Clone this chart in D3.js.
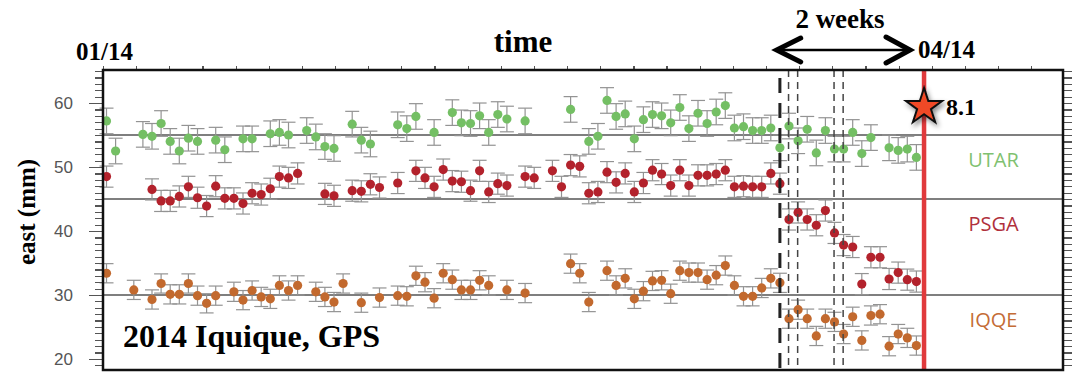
<!DOCTYPE html>
<html>
<head>
<meta charset="utf-8">
<script src="https://cdn.jsdelivr.net/npm/d3@7"></script>
<style>
  body { margin: 0; background: #fff; }
  svg { display: block; }
  .bold-serif { font-family: "Liberation Serif", "Times New Roman", serif; font-weight: bold; fill: #000; }
  .axis text { font-family: "Liberation Sans", Arial, sans-serif; font-size: 17px; fill: #555; }
  .axis line { stroke: #555; stroke-width: 1.2; shape-rendering: crispEdges; }
  .axis path.domain { display: none; }
  .station { font-family: "Open Sans", "Liberation Sans", Arial, sans-serif; font-size: 20px; text-anchor: middle; }
</style>
</head>
<body>
<svg id="chart" width="1072" height="372"></svg>
<script>
// days counted from 01/14 (0 = first day), east offsets in mm
const utarDays = [0, 1, 4, 5, 6, 7, 8, 9, 10, 12, 13, 15, 16, 18, 19, 20, 22, 23, 24, 25,
  27, 28, 29, 32, 33, 34, 36, 38, 39, 40, 41, 42, 43, 44, 46, 51, 53, 54, 55, 56,
  57, 58, 59, 60, 61, 62, 63, 64, 65, 66, 67, 68, 69, 70, 71, 72, 73, 74, 75, 76,
  77, 78, 79, 80, 81, 82, 83, 84, 86, 87, 88, 89];
const utarEast = [57.2, 52.5, 55.1, 54.8, 56.8, 54.0, 52.5, 54.5, 54.0, 54.2, 52.7, 54.4, 54.4, 55.2, 55.4, 55.0, 55.7, 54.7, 53.2, 52.9,
  56.7, 54.2, 53.6, 56.6, 56.0, 57.9, 55.4, 58.5, 56.9, 56.8, 58.0, 55.4, 58.2, 57.5, 57.2, 59.0, 54.0, 54.8, 60.4, 57.9,
  58.3, 54.4, 57.4, 58.2, 58.0, 56.9, 59.3, 56.0, 58.4, 56.8, 58.6, 59.6, 56.1, 56.3, 55.7, 55.7, 56.1, 53.0, 56.4, 54.1,
  55.9, 52.2, 55.7, 52.8, 52.8, 55.4, 52.1, 54.6, 53.0, 52.6, 52.8, 51.5];

const psgaDays = [0, 5, 6, 7, 8, 9, 10, 11, 12, 13, 14, 15, 16, 17, 18, 19, 20, 21, 24, 25,
  27, 28, 29, 30, 32, 34, 35, 36, 37, 38, 39, 40, 41, 42, 43, 44, 46, 47, 49, 50,
  51, 52, 53, 54, 55, 56, 57, 58, 59, 60, 61, 62, 63, 64, 65, 66, 67, 68, 69, 70,
  71, 72, 73, 74, 75, 76, 77, 78, 79, 80, 81, 82, 83, 84, 85, 86, 87, 88, 89];
const psgaEast = [48.5, 46.5, 44.7, 44.7, 45.4, 46.9, 45.2, 43.9, 47.0, 45.1, 45.1, 44.3, 45.9, 45.7, 46.6, 48.5, 48.3, 49.0, 45.8, 45.5,
  46.3, 46.2, 47.3, 46.8, 47.5, 49.4, 48.3, 46.9, 49.6, 47.8, 47.7, 46.3, 49.4, 46.1, 47.4, 47.1, 48.5, 48.3, 49.4, 46.9,
  50.3, 50.1, 45.9, 46.1, 49.2, 47.6, 49.0, 46.1, 47.5, 49.5, 48.9, 47.1, 49.5, 47.1, 48.7, 48.7, 48.9, 49.5, 46.9, 47.0,
  46.9, 46.9, 49.0, 47.4, 41.8, 42.9, 41.8, 40.9, 43.2, 39.7, 37.8, 37.5, 31.7, 35.9, 35.9, 32.5, 33.5, 32.4, 32.1];

const iqqeDays = [0, 3, 5, 6, 7, 8, 9, 10, 11, 12, 14, 15, 16, 17, 18, 19, 20, 21, 23, 24,
  25, 26, 28, 30, 32, 33, 34, 35, 36, 37, 38, 39, 40, 41, 42, 44, 46, 51, 52, 53,
  55, 56, 57, 58, 59, 60, 61, 62, 63, 64, 65, 66, 67, 68, 69, 70, 71, 72, 73, 74,
  75, 76, 77, 78, 79, 80, 81, 82, 83, 84, 85, 86, 87, 88, 89];
const iqqeEast = [33.4, 30.8, 29.3, 31.8, 30.1, 30.1, 31.8, 29.9, 28.7, 29.9, 30.5, 29.2, 30.7, 29.7, 29.4, 31.5, 30.7, 31.5, 30.5, 29.7,
  28.9, 31.8, 28.8, 29.6, 29.9, 29.8, 33.0, 32.0, 29.5, 33.4, 32.4, 30.8, 30.8, 32.3, 31.5, 30.8, 30.3, 34.9, 33.4, 28.9,
  33.8, 31.5, 32.6, 29.4, 30.6, 32.2, 32.3, 30.2, 33.8, 33.5, 33.5, 32.4, 33.1, 34.6, 31.5, 29.8, 29.8, 31.1, 32.6, 31.9,
  26.3, 27.7, 26.3, 23.6, 26.3, 25.8, 23.9, 26.6, 22.9, 26.8, 27.0, 22.0, 23.9, 23.3, 22.1];

const stations = ['UTAR', 'PSGA', 'IQQE'];
const stationColors = ['#74bf64', '#b3222c', '#c2692e'];
const labelColors = ['#7fc170', '#b0303c', '#c46c36'];
const stationErr = [2.0, 1.65, 1.5];   // mm, half-length of the error bars
const baselines = [55, 45, 30];         // reference level per station

const yMajorTicks = [20, 30, 40, 50, 60];
const eqDay = 89.84;                    // 8.1 Iquique mainshock
const eqMagnitude = '8.1';
const starEast = 59.4;
const slowSlipStart = 74;               // long-dashed marker
const foreshockDays = [74.95, 75.95, 79.95, 80.95];
const twoWeeks = [73.65, 88.3];

const series = [
  { days: utarDays, east: utarEast },
  { days: psgaDays, east: psgaEast },
  { days: iqqeDays, east: iqqeEast }
];

const W = 1072, H = 372;
const margin = { top: 70, right: 9, bottom: 2, left: 103 };
const plotW = W - margin.left - margin.right;
const plotH = H - margin.top - margin.bottom;

const svg = d3.select('#chart');

const x = d3.scaleLinear().domain([-0.385, 105.11]).range([0, plotW]);
const y = d3.scaleLinear().domain([18.28, 65.16]).range([plotH, 0]);

// star shadow
const defs = svg.append('defs');
defs.append('filter').attr('id', 'shadow')
  .attr('x', '-50%').attr('y', '-50%').attr('width', '200%').attr('height', '200%')
  .append('feDropShadow')
  .attr('dx', 2).attr('dy', 3).attr('stdDeviation', 2.5)
  .attr('flood-color', '#000').attr('flood-opacity', 0.45);

const g = svg.append('g').attr('transform', `translate(${margin.left},${margin.top})`);

// reference lines
g.selectAll('line.base')
  .data(baselines)
  .enter().append('line')
  .attr('class', 'base')
  .attr('x1', 0).attr('x2', plotW)
  .attr('y1', d => y(d)).attr('y2', d => y(d))
  .attr('stroke', '#555')
  .attr('stroke-width', 1.5);

// error bars + points
series.forEach((s, k) => {
  const pts = s.days.map((d, i) => ({ d: d, v: s.east[i] }));
  const err = stationErr[k];
  const grp = g.append('g').attr('class', 'station-' + stations[k]);

  const bars = grp.selectAll('g.err')
    .data(pts)
    .enter().append('g')
    .attr('class', 'err')
    .attr('stroke', '#939393')
    .attr('stroke-width', 1.2);
  bars.append('line')
    .attr('x1', p => x(p.d)).attr('x2', p => x(p.d))
    .attr('y1', p => y(p.v + err)).attr('y2', p => y(p.v - err));
  bars.append('line')
    .attr('x1', p => x(p.d) - 7).attr('x2', p => x(p.d) + 7)
    .attr('y1', p => y(p.v + err)).attr('y2', p => y(p.v + err));
  bars.append('line')
    .attr('x1', p => x(p.d) - 7).attr('x2', p => x(p.d) + 7)
    .attr('y1', p => y(p.v - err)).attr('y2', p => y(p.v - err));

  grp.selectAll('circle')
    .data(pts)
    .enter().append('circle')
    .attr('cx', p => x(p.d))
    .attr('cy', p => y(p.v))
    .attr('r', 4.6)
    .attr('fill', stationColors[k]);
});

// dashed markers
g.append('line')
  .attr('x1', x(slowSlipStart)).attr('x2', x(slowSlipStart))
  .attr('y1', 8).attr('y2', plotH)
  .attr('stroke', '#222').attr('stroke-width', 3)
  .attr('stroke-dasharray', '15,10');

g.selectAll('line.fs')
  .data(foreshockDays)
  .enter().append('line')
  .attr('class', 'fs')
  .attr('x1', d => x(d)).attr('x2', d => x(d))
  .attr('y1', 0).attr('y2', plotH)
  .attr('stroke', '#444').attr('stroke-width', 1.5)
  .attr('stroke-dasharray', '7,5');

// mainshock
g.append('line')
  .attr('x1', x(eqDay)).attr('x2', x(eqDay))
  .attr('y1', 0).attr('y2', plotH)
  .attr('stroke', '#e03a3c').attr('stroke-width', 4.5);

g.append('path')
  .attr('d', d3.symbol(d3.symbolStar, 405)())
  .attr('transform', `translate(${x(eqDay)},${y(starEast)})`)
  .attr('fill', '#f04a26')
  .attr('stroke', '#111')
  .attr('stroke-width', 2)
  .attr('filter', 'url(#shadow)');

g.append('text')
  .attr('class', 'bold-serif')
  .attr('x', x(eqDay) + 22)
  .attr('y', y(starEast) + 8)
  .attr('font-size', '24px')
  .text(eqMagnitude);

// station labels
g.selectAll('text.station')
  .data(stations)
  .enter().append('text')
  .attr('class', 'station')
  .attr('x', (x(eqDay) + plotW) / 2)
  .attr('y', (d, i) => y(baselines[i]) + 32)
  .attr('fill', (d, i) => labelColors[i])
  .text(d => d);

// axes
g.append('g')
  .attr('class', 'axis')
  .call(d3.axisLeft(y).tickValues(d3.range(19, 66)).tickSize(8).tickFormat(''));
g.append('g')
  .attr('class', 'axis')
  .call(d3.axisLeft(y).tickValues(yMajorTicks).tickSize(14).tickPadding(16));
g.append('g')
  .attr('class', 'axis')
  .attr('transform', `translate(${plotW},0)`)
  .call(d3.axisRight(y).tickValues(d3.range(19, 66)).tickSize(9).tickFormat(''));
g.append('g')
  .attr('class', 'axis')
  .call(d3.axisTop(x).tickValues(d3.range(-0.385, 105, 3.643)).tickSize(4).tickFormat(''));

// frame
g.append('rect')
  .attr('x', 0).attr('y', 0)
  .attr('width', plotW).attr('height', plotH)
  .attr('fill', 'none')
  .attr('stroke', '#111')
  .attr('stroke-width', 2.5);

// titles
svg.append('text')
  .attr('class', 'bold-serif')
  .attr('transform', `translate(35,212) rotate(-90)`)
  .attr('text-anchor', 'middle')
  .attr('font-size', '25px')
  .text('east (mm)');

svg.append('text')
  .attr('class', 'bold-serif')
  .attr('x', margin.left - 27).attr('y', 60)
  .attr('font-size', '25px')
  .text('01/14');

svg.append('text')
  .attr('class', 'bold-serif')
  .attr('x', margin.left + x(eqDay) - 6).attr('y', 58)
  .attr('font-size', '25px')
  .text('04/14');

svg.append('text')
  .attr('class', 'bold-serif')
  .attr('x', 523).attr('y', 52)
  .attr('text-anchor', 'middle')
  .attr('font-size', '31px')
  .text('time');

svg.append('text')
  .attr('class', 'bold-serif')
  .attr('x', 840).attr('y', 28)
  .attr('text-anchor', 'middle')
  .attr('font-size', '27px')
  .text('2 weeks');

svg.append('text')
  .attr('class', 'bold-serif')
  .attr('x', margin.left + 20).attr('y', 347)
  .attr('font-size', '32px')
  .text('2014 Iquique, GPS');

// two-week arrow
const ax0 = margin.left + x(twoWeeks[0]), ax1 = margin.left + x(twoWeeks[1]), ay = 50;
svg.append('line')
  .attr('x1', ax0 + 3).attr('x2', ax1 - 3)
  .attr('y1', ay).attr('y2', ay)
  .attr('stroke', '#000').attr('stroke-width', 2.5);
svg.append('path')
  .attr('d', `M${ax0 + 24},${ay - 12} L${ax0},${ay} L${ax0 + 24},${ay + 12}`
    + ` M${ax1 - 24},${ay - 13} L${ax1},${ay} L${ax1 - 24},${ay + 13}`)
  .attr('fill', 'none')
  .attr('stroke', '#000')
  .attr('stroke-width', 5)
  .attr('stroke-linecap', 'round')
  .attr('stroke-linejoin', 'miter');
</script>
</body>
</html>
